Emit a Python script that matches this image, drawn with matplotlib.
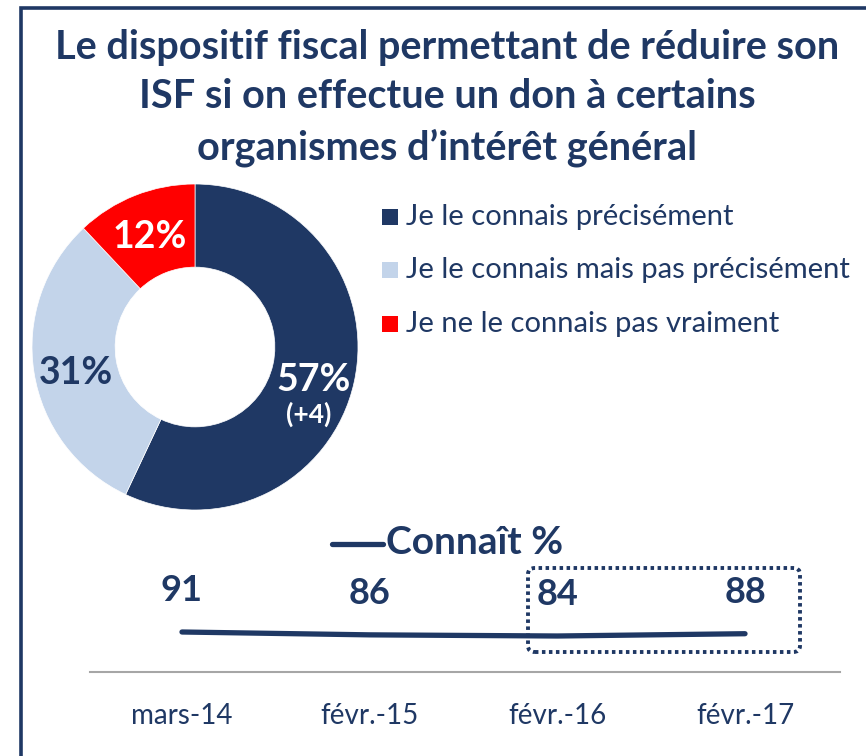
import matplotlib
matplotlib.use("Agg")
import matplotlib.pyplot as plt
from matplotlib.patches import FancyBboxPatch, Rectangle
from matplotlib.lines import Line2D

# ---- data ----
title = "Le dispositif fiscal permettant de réduire son\nISF si on effectue un don à certains\norganismes d’intérêt général"
pie_labels = ["Je le connais précisément", "Je le connais mais pas précisément", "Je ne le connais pas vraiment"]
pie_values = [57, 31, 12]
pie_texts = ["57%", "31%", "12%"]
pie_change = "(+4)"
dates = ["mars-14", "févr.-15", "févr.-16", "févr.-17"]
connait = [91, 86, 84, 88]
series_name = "Connaît %"

NAVY = "#1F3864"
LIGHT = "#C3D4EA"
RED = "#FF0000"
colors = [NAVY, LIGHT, RED]
FONT = "Lato"

W, H = 866, 756
fig = plt.figure(figsize=(W / 100, H / 100), dpi=100)
fig.patch.set_facecolor("white")

def fx(px):
    return px / W

def fy(py):
    return 1 - py / H

# frame (left and top visible)
fig.add_artist(Rectangle((fx(21), fy(900)), fx(1000), (892) / H, transform=fig.transFigure,
                         fill=False, edgecolor=NAVY, linewidth=2.6))

# title
fig.text(fx(447), fy(98), title, ha="center", va="center", fontsize=28.5, fontweight="bold",
         color=NAVY, family=FONT, linespacing=1.4)

# ---- donut ----
cx, cy, R = 195, 347, 163
half = 175
ax = fig.add_axes([fx(cx - half), fy(cy + half), 2 * half / W, 2 * half / H])
wedges, _ = ax.pie(pie_values, colors=colors, startangle=90, counterclock=False, radius=1,
                   wedgeprops=dict(width=0.51, edgecolor="white", linewidth=0.5))
lim = half / R
ax.set_xlim(-lim, lim)
ax.set_ylim(-lim, lim)
ax.set_aspect("equal")
ax.axis("off")

def dxy(px, py):
    return ((px - cx) / R, (cy - py) / R)

x, y = dxy(314, 380)
ax.text(x, y, pie_texts[0], ha="center", va="center", fontsize=27, fontweight="bold", color="white", family=FONT)
x, y = dxy(309, 414)
ax.text(x, y, pie_change, ha="center", va="center", fontsize=19, fontweight="bold", color="white", family=FONT)
x, y = dxy(76, 373)
ax.text(x, y, pie_texts[1], ha="center", va="center", fontsize=27, fontweight="bold", color=NAVY, family=FONT)
x, y = dxy(150, 237)
ax.text(x, y, pie_texts[2], ha="center", va="center", fontsize=27, fontweight="bold", color="white", family=FONT)

# legend
leg_y = [217, 270, 324]
for lab, col, ly in zip(pie_labels, colors, leg_y):
    fig.add_artist(Rectangle((fx(382), fy(ly + 8)), 16 / W, 16 / H, transform=fig.transFigure,
                             facecolor=col, edgecolor="none"))
    fig.text(fx(406), fy(ly), lab, ha="left", va="center", fontsize=21, color=NAVY, family=FONT)

# ---- line chart ----
left_px, right_px = 90, 840
top_px, bot_px = 560, 672
lax = fig.add_axes([fx(left_px), fy(bot_px), (right_px - left_px) / W, (bot_px - top_px) / H])
xs = list(range(len(dates)))
lax.plot(xs, connait, color=NAVY, linewidth=3.8, solid_capstyle="round")
scale = 187.7
lax.set_xlim(-(182 - left_px) / scale, 3 + (right_px - 745) / scale)
lax.set_ylim(21, 217)
for s in ["top", "left", "right"]:
    lax.spines[s].set_visible(False)
lax.spines["bottom"].set_color("#A6A6A6")
lax.spines["bottom"].set_linewidth(1.5)
lax.set_yticks([])
lax.set_xticks(xs)
lax.set_xticklabels(dates, fontsize=20, color=NAVY, family=FONT)
lax.tick_params(axis="x", length=0, pad=22)
for xi, v in zip(xs, connait):
    lax.annotate(str(v), (xi, v), xytext=(0, 30), textcoords="offset points", ha="center", va="center",
                 fontsize=26, fontweight="bold", color=NAVY, family=FONT)

# series legend
fig.add_artist(Line2D([fx(332), fx(383)], [fy(544), fy(544)], transform=fig.transFigure,
                      color=NAVY, linewidth=3.8, solid_capstyle="round"))
fig.text(fx(386), fy(543), series_name, ha="left", va="center", fontsize=28, fontweight="bold",
         color=NAVY, family=FONT)

# dotted highlight box
fig.add_artist(FancyBboxPatch((fx(528), fy(652)), (800 - 528) / W, (652 - 568) / H,
                              boxstyle="round,pad=0,rounding_size=0.008", transform=fig.transFigure,
                              fill=False, edgecolor=NAVY, linewidth=2.8, linestyle=(0, (0.9, 0.9))))

fig.savefig("out.png", dpi=100, facecolor="white")
